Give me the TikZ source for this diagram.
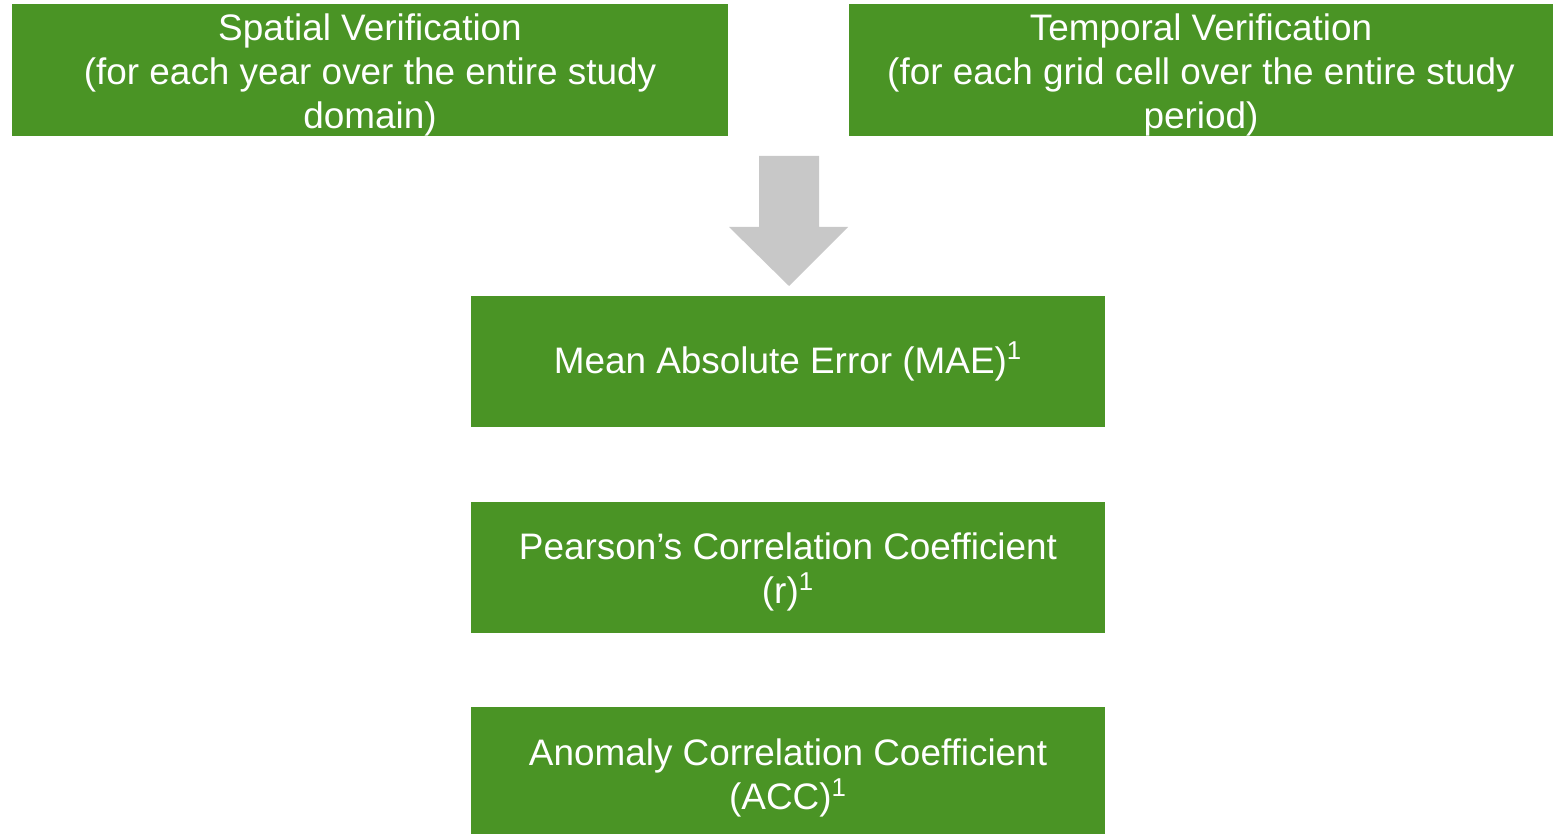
\documentclass[tikz,border=0pt]{standalone}
\usepackage{fontspec}
\setmainfont{Liberation Sans}
\usetikzlibrary{positioning}
\definecolor{boxgreen}{RGB}{74,148,37}
\definecolor{arrowgray}{RGB}{200,200,200}
\newcommand{\topgap}[1]{\rule{0pt}{#1}}

\begin{document}
\begin{tikzpicture}[x=0.02cm, y=-0.02cm, font=\fontsize{21}{25}\selectfont,
    box/.style={fill=boxgreen, text=white, align=center, inner sep=0pt, minimum height=2.6cm},
    metric/.style={box, minimum width=12.68cm, minimum height=2.62cm}]
  \useasboundingbox (0,0) rectangle (1554,834);
  % verification types
  \node[box, minimum width=14.32cm] (spatial) at (370,70) {\topgap{21pt}Spatial Verification\\(for each year over the entire study\\domain)};
  \node[box, minimum width=14.08cm] (temporal) at (1201,70) {\topgap{21pt}Temporal Verification\\(for each grid cell over the entire study\\period)};
  % block arrow
  \fill[arrowgray] (759,156) -- (819,156) -- (819,227) -- (848,227) -- (789,286) -- (729,227) -- (759,227) -- cycle;
  % metrics
  \node[metric] (mae) at (788,361.5) {\topgap{17pt}Mean Absolute Error (MAE)\textsuperscript{1}};
  \node[metric, below=1.48cm of mae] (pearson) {\topgap{21pt}Pearson’s Correlation Coefficient\\(r)\textsuperscript{1}};
  \node[metric, below=1.48cm of pearson] (acc) {\topgap{21pt}Anomaly Correlation Coefficient\\(ACC)\textsuperscript{1}};
\end{tikzpicture}
\end{document}
